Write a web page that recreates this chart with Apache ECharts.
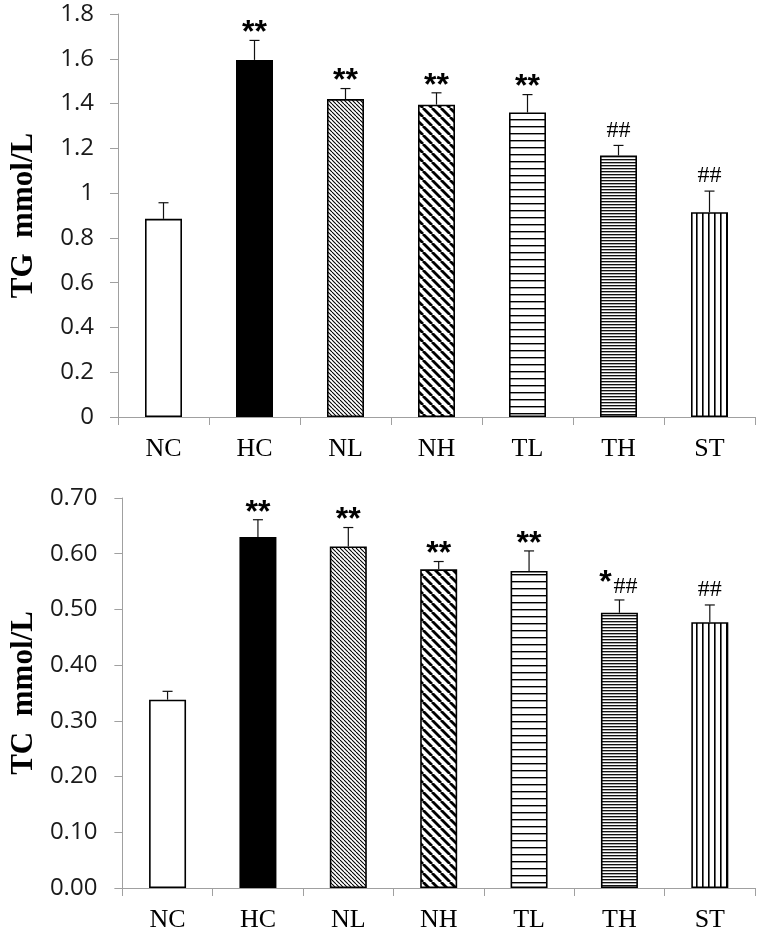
<!DOCTYPE html>
<html>
<head>
<meta charset="utf-8">
<script src="https://cdn.jsdelivr.net/npm/echarts@6/dist/echarts.min.js"></script>
<style>
html,body{margin:0;padding:0;background:#fff;}
#chart{width:760px;height:933px;}
</style>
</head>
<body>
<div id="chart"></div>
<script>
// ---- data ----
const categories = ['NC', 'HC', 'NL', 'NH', 'TL', 'TH', 'ST'];
const tgMean = [0.885, 1.595, 1.42, 1.395, 1.36, 1.168, 0.915];
const tgErr  = [0.072, 0.087, 0.047, 0.053, 0.08, 0.045, 0.094];
const tcMean = [0.338, 0.630, 0.613, 0.572, 0.569, 0.494, 0.477];
const tcErr  = [0.015, 0.031, 0.034, 0.014, 0.036, 0.023, 0.031];
const tgStar = ['', '**', '**', '**', '**', '', ''];
const tgHash = ['', '', '', '', '', '##', '##'];
const tcStar = ['', '**', '**', '**', '**', '*', ''];
const tcHash = ['', '', '', '', '', '##', '##'];
const tgTicks = {min: 0, max: 1.8, interval: 0.2};
const tcTicks = {min: 0, max: 0.7, interval: 0.1};

// ---- patterns ----
function makeCanvas(w, h, draw) {
  const c = document.createElement('canvas');
  c.width = w; c.height = h;
  const ctx = c.getContext('2d');
  ctx.fillStyle = '#fff'; ctx.fillRect(0, 0, w, h);
  draw(ctx, w, h);
  return c;
}
function diag(p, lw) {
  return makeCanvas(p, p, (ctx) => {
    ctx.strokeStyle = '#000'; ctx.lineWidth = lw;
    for (let k = -1; k <= 1; k++) {
      ctx.beginPath(); ctx.moveTo(k * p, 0); ctx.lineTo(k * p + p, p); ctx.stroke();
    }
  });
}
const patNL = diag(4, 1.1);
const patNH = diag(9, 2.8);
const patTL = makeCanvas(8, 7, (ctx, w) => { ctx.fillStyle = '#000'; ctx.fillRect(0, 0, w, 1.4); });
const patTH = makeCanvas(8, 3, (ctx, w) => { ctx.fillStyle = '#111'; ctx.fillRect(0, 0, w, 1); ctx.fillStyle = '#aaa'; ctx.fillRect(0, 1, w, 1); });
const patST = makeCanvas(6, 8, (ctx, w, h) => { ctx.fillStyle = '#000'; ctx.fillRect(0, 0, 1.6, h); });

const fills = [
  '#ffffff',
  '#000000',
  {image: patNL, repeat: 'repeat'},
  {image: patNH, repeat: 'repeat'},
  {image: patTL, repeat: 'repeat'},
  {image: patTH, repeat: 'repeat'},
  {image: patST, repeat: 'repeat'}
];

function barData(means) {
  return means.map((v, i) => ({
    value: v,
    itemStyle: {color: fills[i], borderColor: '#000', borderWidth: 1.6}
  }));
}

function errRender(params, api) {
  const base = api.coord([api.value(0), api.value(1)]);
  const top = api.coord([api.value(0), api.value(1) + api.value(2)]);
  const cap = 5;
  return {
    type: 'group',
    children: [
      {type: 'line', shape: {x1: base[0], y1: base[1], x2: top[0], y2: top[1]}, style: {stroke: '#111', lineWidth: 1.2}},
      {type: 'line', shape: {x1: top[0] - cap, y1: top[1], x2: top[0] + cap, y2: top[1]}, style: {stroke: '#111', lineWidth: 1.2}}
    ]
  };
}

const starFont = 'bold 32px "Liberation Sans"';
const hashFont = '24px "Liberation Serif"';
function annRender(stars, hashes) {
  return function (params, api) {
    const i = params.dataIndex;
    const top = api.coord([api.value(0), api.value(1) + api.value(2)]);
    const st = stars[i], hs = hashes[i];
    const children = [];
    if (st && hs) {
      children.push({type: 'text', x: top[0] - 14, y: top[1] - 25 + 8,
        style: {text: st, font: starFont, fill: '#000', align: 'center', verticalAlign: 'middle'}});
      children.push({type: 'text', x: top[0] + 6, y: top[1] - 13,
        style: {text: hs, font: hashFont, fill: '#000', align: 'center', verticalAlign: 'middle'}});
    } else if (st) {
      children.push({type: 'text', x: top[0], y: top[1] - 15 + 8,
        style: {text: st, font: starFont, fill: '#000', align: 'center', verticalAlign: 'middle'}});
    } else if (hs) {
      children.push({type: 'text', x: top[0], y: top[1] - 15,
        style: {text: hs, font: hashFont, fill: '#000', align: 'center', verticalAlign: 'middle'}});
    }
    return {type: 'group', children: children};
  };
}

function errData(means, errs) {
  return means.map((v, i) => [i, v, errs[i]]);
}

const axisGray = '#a0a0a0';
function xAx(gridIndex) {
  return {
    type: 'category', gridIndex: gridIndex, data: categories,
    axisLine: {lineStyle: {color: axisGray, width: 1}},
    axisTick: {show: true, length: 8, lineStyle: {color: axisGray}},
    axisLabel: {fontFamily: 'Liberation Serif', fontSize: 26, color: '#000', margin: 19}
  };
}
function yAx(gridIndex, ticks, name, fmt, margin) {
  return {
    type: 'value', gridIndex: gridIndex, min: ticks.min, max: ticks.max, interval: ticks.interval,
    name: name, nameLocation: 'middle', nameRotate: 90, nameGap: 79,
    nameTextStyle: {fontFamily: 'Liberation Serif', fontWeight: 'bold', fontSize: 31, color: '#000'},
    axisLine: {show: true, lineStyle: {color: axisGray, width: 1}},
    axisTick: {show: true, length: 8, lineStyle: {color: axisGray}},
    splitLine: {show: false},
    axisLabel: {fontFamily: 'Open Sans', fontSize: 24, color: '#1a1a1a', margin: margin, formatter: fmt}
  };
}

const chart = echarts.init(document.getElementById('chart'), null, {renderer: 'canvas'});
chart.setOption({
  backgroundColor: '#fff',
  animation: false,
  grid: [
    {left: 111, right: 5, top: 14, height: 403},
    {left: 107, right: 5, top: 498, height: 393}
  ],
  xAxis: [xAx(0), xAx(1)],
  yAxis: [
    yAx(0, tgTicks, 'TG  mmol/L', (v) => String(+v.toFixed(1)), 24),
    yAx(1, tcTicks, 'TC  mmol/L', (v) => v.toFixed(2), 25)
  ],
  series: [
    {type: 'bar', xAxisIndex: 0, yAxisIndex: 0, barWidth: 37, data: barData(tgMean), z: 2},
    {type: 'bar', xAxisIndex: 1, yAxisIndex: 1, barWidth: 37, data: barData(tcMean), z: 2},
    {type: 'custom', xAxisIndex: 0, yAxisIndex: 0, renderItem: errRender, data: errData(tgMean, tgErr), z: 3},
    {type: 'custom', xAxisIndex: 1, yAxisIndex: 1, renderItem: errRender, data: errData(tcMean, tcErr), z: 3},
    {type: 'custom', xAxisIndex: 0, yAxisIndex: 0, renderItem: annRender(tgStar, tgHash), data: errData(tgMean, tgErr), z: 4},
    {type: 'custom', xAxisIndex: 1, yAxisIndex: 1, renderItem: annRender(tcStar, tcHash), data: errData(tcMean, tcErr), z: 4}
  ]
});
</script>
</body>
</html>
